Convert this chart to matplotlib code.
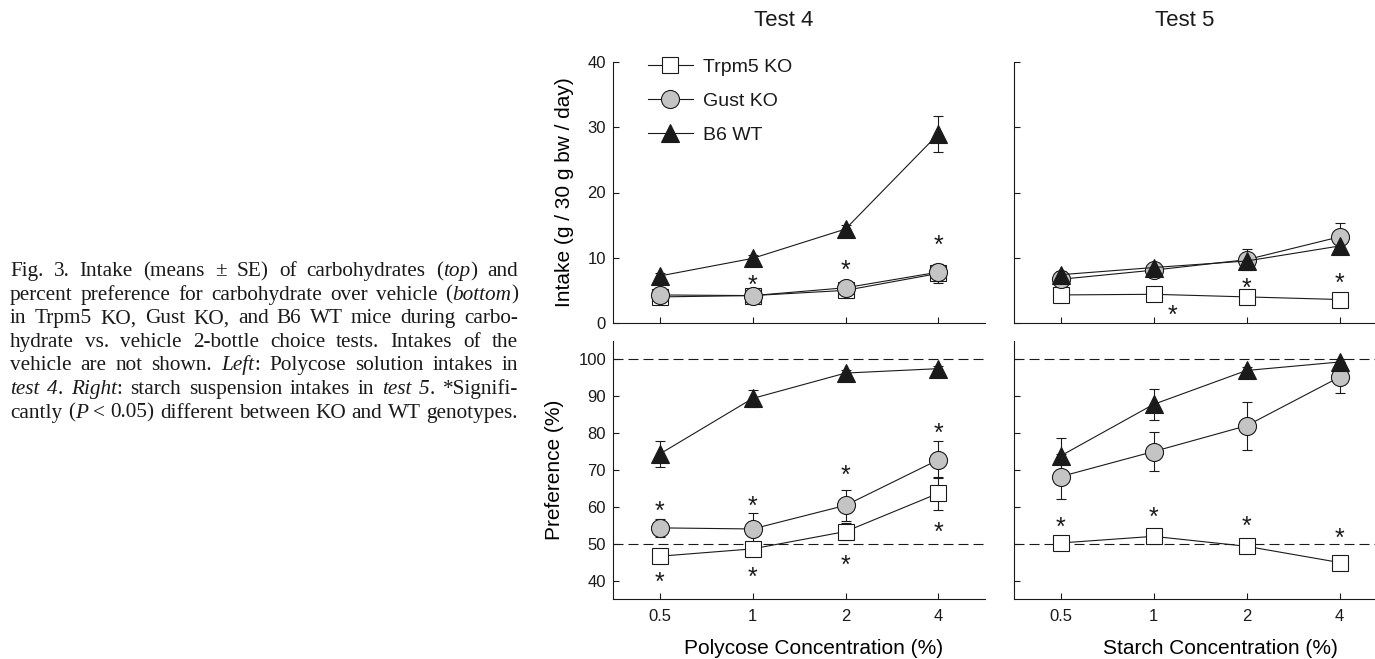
# -*- coding: utf-8 -*-
"""
fig3_carbohydrate_intake.py
"""
#%% Imports

import matplotlib
matplotlib.use('Agg')
import matplotlib.pyplot as plt
import numpy as np

plt.rcParams['font.family'] = 'Liberation Sans'
ink = '#1a1a1a'
plt.rcParams['text.color'] = ink
plt.rcParams['axes.edgecolor'] = ink
plt.rcParams['xtick.color'] = ink
plt.rcParams['ytick.color'] = ink


#%% Data

conc_labels = ['0.5', '1', '2', '4']
x = np.arange(len(conc_labels))

# Test 4 (Polycose) intake, g / 30 g bw / day
t4_intake_trpm5 = [4.0, 4.2, 5.0, 7.6]
t4_intake_trpm5_se = [0.4, 0.4, 0.5, 1.4]
t4_intake_gust = [4.3, 4.2, 5.4, 7.8]
t4_intake_gust_se = [0.4, 0.4, 0.5, 1.3]
t4_intake_b6 = [7.2, 9.9, 14.4, 29.0]
t4_intake_b6_se = [0.4, 0.5, 0.6, 2.8]

# Test 5 (starch) intake
t5_intake_trpm5 = [4.3, 4.4, 4.0, 3.6]
t5_intake_trpm5_se = [0.4, 0.4, 0.4, 0.4]
t5_intake_gust = [6.7, 8.1, 9.7, 13.2]
t5_intake_gust_se = [0.5, 0.5, 1.6, 2.2]
t5_intake_b6 = [7.4, 8.5, 9.5, 11.8]
t5_intake_b6_se = [0.5, 0.5, 0.6, 1.2]

# Test 4 preference, %
t4_pref_trpm5 = [46.6, 48.6, 53.3, 63.7]
t4_pref_trpm5_se = [1.5, 1.5, 2.3, 4.5]
t4_pref_gust = [54.3, 54.0, 60.4, 72.8]
t4_pref_gust_se = [2.5, 4.2, 4.2, 5.0]
t4_pref_b6 = [74.3, 89.4, 96.3, 97.5]
t4_pref_b6_se = [3.5, 2.2, 0.8, 0.8]

# Test 5 preference, %
t5_pref_trpm5 = [50.2, 52.0, 49.3, 44.9]
t5_pref_trpm5_se = [1.0, 1.0, 1.0, 1.0]
t5_pref_gust = [68.2, 75.0, 82.0, 95.2]
t5_pref_gust_se = [6.1, 5.4, 6.5, 4.2]
t5_pref_b6 = [73.8, 87.8, 97.0, 99.3]
t5_pref_b6_se = [4.9, 4.2, 1.0, 0.8]

# significance stars (x index, y value)
t4_intake_star_x = [1, 2, 3]
t4_intake_star_y = [6.7, 9.0, 12.8]
t5_intake_star_x = [1.2, 2, 3]
t5_intake_star_y = [2.0, 6.2, 7.0]
t4_pref_star_x = [0, 0, 1, 1, 2, 2, 3, 3]
t4_pref_star_y = [60.4, 41.0, 61.7, 42.5, 70.0, 45.7, 81.4, 54.5]
t5_pref_star_x = [0, 1, 2, 3]
t5_pref_star_y = [56.0, 58.7, 56.3, 53.1]

caption_lines = [
    "Fig. 3. Intake (means \u00b1 SE) of carbohydrates (_top_) and",
    "percent preference for carbohydrate over vehicle (_bottom_)",
    "in Trpm5 KO, Gust KO, and B6 WT mice during carbo-",
    "hydrate vs. vehicle 2-bottle choice tests. Intakes of the",
    "vehicle are not shown. _Left_: Polycose solution intakes in",
    "_test 4_. _Right_: starch suspension intakes in _test 5_. *Signifi-",
    "cantly (_P_ < 0.05) different between KO and WT genotypes.",
]


#%% Figure and axes

W, H = 1375, 659
fig = plt.figure(figsize=(W / 100, H / 100), dpi=100)

def px_axes(left, top, right, bottom):
    return fig.add_axes([left / W, 1 - bottom / H, (right - left) / W, (bottom - top) / H])

ax_t4i = px_axes(613, 62, 985, 323)
ax_t5i = px_axes(1014, 62, 1386, 323)
ax_t4p = px_axes(613, 341, 985, 599)
ax_t5p = px_axes(1014, 341, 1386, 599)

styles = {
    'trpm5': dict(marker='s', ms=11, mfc='white', label='Trpm5 KO'),
    'gust': dict(marker='o', ms=13, mfc='#c4c4c4', label='Gust KO'),
    'b6': dict(marker='^', ms=13.5, mfc=ink, label='B6 WT'),
}

def draw_series(ax, y, se, key):
    ax.errorbar(x, y, yerr=se, fmt='none', ecolor=ink, elinewidth=0.8,
                capsize=3.5, capthick=0.8, zorder=2)
    ln, = ax.plot(x, y, color=ink, lw=0.8, mec=ink, mew=0.8, zorder=3,
                  **styles[key])
    return ln

def draw_stars(ax, sx, sy):
    for xi, yi in zip(sx, sy):
        ax.annotate('*', (xi, yi), xytext=(0, -9.5), textcoords='offset points',
                    ha='center', va='baseline', fontsize=18, color=ink)

def style_axes(ax, ylim, yticks, show_y, show_x):
    ax.spines['top'].set_visible(False)
    ax.spines['right'].set_visible(False)
    ax.spines['left'].set_linewidth(0.8)
    ax.spines['bottom'].set_linewidth(0.8)
    ax.set_xlim(-0.5, 3.5)
    ax.set_ylim(*ylim)
    ax.set_xticks(x)
    ax.set_yticks(yticks)
    ax.tick_params(direction='in', length=4.5, width=0.8, labelsize=12)
    ax.tick_params(axis='x', pad=7)
    ax.tick_params(axis='y', pad=5)
    ax.set_xticklabels(conc_labels if show_x else [])
    if not show_y:
        ax.set_yticklabels([])
    ax.set_facecolor('none')


#%% Top row: intake

lines = [draw_series(ax_t4i, t4_intake_trpm5, t4_intake_trpm5_se, 'trpm5'),
         draw_series(ax_t4i, t4_intake_gust, t4_intake_gust_se, 'gust'),
         draw_series(ax_t4i, t4_intake_b6, t4_intake_b6_se, 'b6')]
draw_stars(ax_t4i, t4_intake_star_x, t4_intake_star_y)

draw_series(ax_t5i, t5_intake_trpm5, t5_intake_trpm5_se, 'trpm5')
draw_series(ax_t5i, t5_intake_gust, t5_intake_gust_se, 'gust')
draw_series(ax_t5i, t5_intake_b6, t5_intake_b6_se, 'b6')
draw_stars(ax_t5i, t5_intake_star_x, t5_intake_star_y)

style_axes(ax_t4i, (0, 40), [0, 10, 20, 30, 40], True, False)
style_axes(ax_t5i, (0, 40), [0, 10, 20, 30, 40], False, False)
ax_t4i.set_ylabel('Intake (g / 30 g bw / day)', fontsize=15, labelpad=10)

ax_t4i.legend(handles=lines, loc='upper left', bbox_to_anchor=(0.094, 1.015),
              frameon=False, fontsize=14, borderpad=0, borderaxespad=0,
              handlelength=2.3, handletextpad=0.55, labelspacing=0.85)

ax_t4i.set_title('Test 4', fontsize=16, pad=26, x=0.46)
ax_t5i.set_title('Test 5', fontsize=16, pad=26, x=0.46)


#%% Bottom row: preference

for ax in (ax_t4p, ax_t5p):
    ax.axhline(50, color=ink, lw=0.8, ls=(0, (9, 4.5)), zorder=1)
    ax.axhline(100, color=ink, lw=0.8, ls=(0, (9, 4.5)), zorder=1)

draw_series(ax_t4p, t4_pref_trpm5, t4_pref_trpm5_se, 'trpm5')
draw_series(ax_t4p, t4_pref_gust, t4_pref_gust_se, 'gust')
draw_series(ax_t4p, t4_pref_b6, t4_pref_b6_se, 'b6')
draw_stars(ax_t4p, t4_pref_star_x, t4_pref_star_y)

draw_series(ax_t5p, t5_pref_trpm5, t5_pref_trpm5_se, 'trpm5')
draw_series(ax_t5p, t5_pref_gust, t5_pref_gust_se, 'gust')
draw_series(ax_t5p, t5_pref_b6, t5_pref_b6_se, 'b6')
draw_stars(ax_t5p, t5_pref_star_x, t5_pref_star_y)

pref_ticks = [40, 50, 60, 70, 80, 90, 100]
style_axes(ax_t4p, (35, 105), pref_ticks, True, True)
style_axes(ax_t5p, (35, 105), pref_ticks, False, True)
ax_t4p.set_ylabel('Preference (%)', fontsize=15, labelpad=10)
ax_t4p.set_xlabel('Polycose Concentration (%)', fontsize=15)
ax_t5p.set_xlabel('Starch Concentration (%)', fontsize=15)
ax_t4p.xaxis.set_label_coords(0.538, -0.155)
ax_t5p.xaxis.set_label_coords(0.554, -0.155)


#%% Caption (justified, serif)

def parse_line(line, italic):
    words = []
    for w in line.split(' '):
        segs = []
        for j, p in enumerate(w.split('_')):
            if j > 0:
                italic = not italic
            if p:
                segs.append((p, italic))
        words.append(segs)
    return words, italic

def seg_width(r, s, it, size):
    t = fig.text(0, 0, s, fontsize=size, family='Liberation Serif',
                 style='italic' if it else 'normal')
    w = t.get_window_extent(r).width
    t.remove()
    return w

def draw_caption(text_lines, x0, x1, base0, pitch):
    r = fig.canvas.get_renderer()
    # pick the size so the widest line fits with normal word spacing
    italic = False
    natural = []
    for line in text_lines:
        words, italic = parse_line(line, italic)
        plain = ' '.join(''.join(s for s, _ in segs) for segs in words)
        natural.append(seg_width(r, plain, False, 10))
    size = 10 * (x1 - x0) / max(natural) * 0.99
    italic = False
    for k, line in enumerate(text_lines):
        base = base0 + k * pitch
        words, italic = parse_line(line, italic)
        widths = [[seg_width(r, s, it, size) for s, it in segs] for segs in words]
        total = sum(sum(ws) for ws in widths)
        gap = (x1 - x0 - total) / (len(words) - 1)
        xp = x0
        for segs, ws in zip(words, widths):
            for (s, it), wpx in zip(segs, ws):
                fig.text(xp / W, 1 - base / H, s, fontsize=size,
                         family='Liberation Serif', va='baseline', ha='left',
                         style='italic' if it else 'normal', color=ink)
                xp += wpx
            xp += gap

draw_caption(caption_lines, 10, 518, 276, 23.6)

fig.savefig('out.png', dpi=100)
